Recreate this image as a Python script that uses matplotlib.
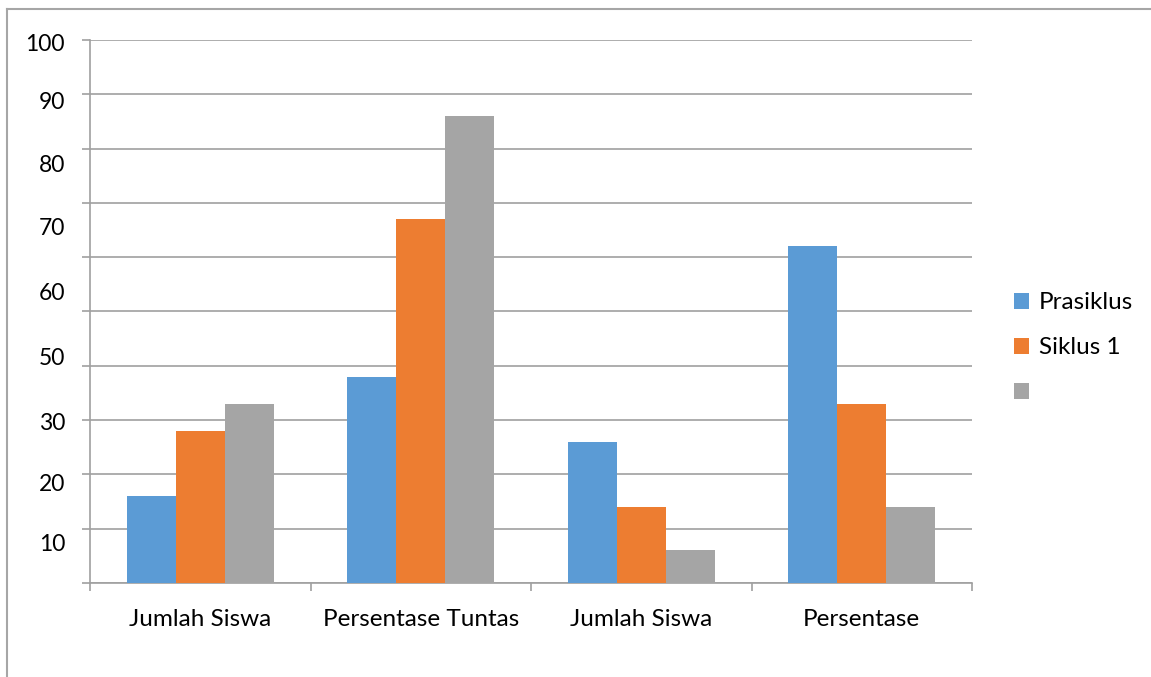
import matplotlib.pyplot as plt
import numpy as np
from matplotlib.lines import Line2D

plt.rcParams['font.family'] = ['Lato', 'DejaVu Sans']

# Data
# ----------------------------------------------------------------------------

categories = ['Jumlah Siswa', 'Persentase Tuntas', 'Jumlah Siswa', 'Persentase']
prasiklus = [16, 38, 26, 62]
siklus1 = [28, 67, 14, 33]
siklus2 = [33, 86, 6, 14]
series_labels = ['Prasiklus', 'Siklus 1', '']

# y labels as they appear on the chart (placed off the grid lines)
ylabel_text = ['100', '90', '80', '70', '60', '50', '30', '20', '10']
ylabel_pos = [99.6, 88.9, 77.3, 65.6, 53.6, 41.8, 29.7, 18.6, 7.4]

colors = ['#5b9bd5', '#ed7d31', '#a5a5a5']
grid_color = '#a0a0a0'

# Plot
# ----------------------------------------------------------------------------

fig = plt.figure(figsize=(11.51, 6.77), dpi=100)
ax = fig.add_axes([90 / 1151, 1 - 583 / 677, (972 - 90) / 1151, (583 - 40) / 677])

x = np.arange(len(categories))
w = 0.2227
bars = []
for i, (vals, c) in enumerate(zip([prasiklus, siklus1, siklus2], colors)):
    b = ax.bar(x + (i - 1) * w, vals, w, color=c, zorder=3)
    bars.append(b)

ax.set_xlim(-0.5, len(categories) - 0.5)
ax.set_ylim(0, 100)

# grid and tick marks
ax.set_yticks(np.arange(0, 101, 10))
ax.set_yticklabels([])
ax.set_yticks(ylabel_pos, ylabel_text, minor=True)
ax.yaxis.grid(True, which='major', color=grid_color, linewidth=1.2, zorder=0)
ax.tick_params(axis='y', which='major', length=6, color=grid_color, width=1.2)
ax.tick_params(axis='y', which='minor', length=0, pad=18, labelsize=16.5)

ax.set_xticks(np.arange(-0.5, len(categories), 1.0))
ax.set_xticklabels([])
ax.set_xticks(x, categories, minor=True)
ax.tick_params(axis='x', which='major', length=6, color=grid_color, width=1.2)
ax.tick_params(axis='x', which='minor', length=0, pad=19, labelsize=17.5)

for side in ['top', 'right']:
    ax.spines[side].set_visible(False)
for side in ['left', 'bottom']:
    ax.spines[side].set_color(grid_color)
    ax.spines[side].set_linewidth(1.2)

ax.legend(bars, series_labels, loc='center left', bbox_to_anchor=(1014 / 1151, 1 - 348 / 677),
          bbox_transform=fig.transFigure, frameon=False, fontsize=17.5,
          handlelength=0.62, handleheight=0.62, handletextpad=0.4, labelspacing=1.0,
          borderaxespad=0, borderpad=0)

# outer chart border (top and left edges visible)
fig.add_artist(Line2D([7 / 1151, 1], [1 - 9 / 677, 1 - 9 / 677], color='#a6a6a6', linewidth=1.5))
fig.add_artist(Line2D([7 / 1151, 7 / 1151], [0, 1 - 9 / 677], color='#a6a6a6', linewidth=1.5))

fig.savefig('out.png', dpi=100)
